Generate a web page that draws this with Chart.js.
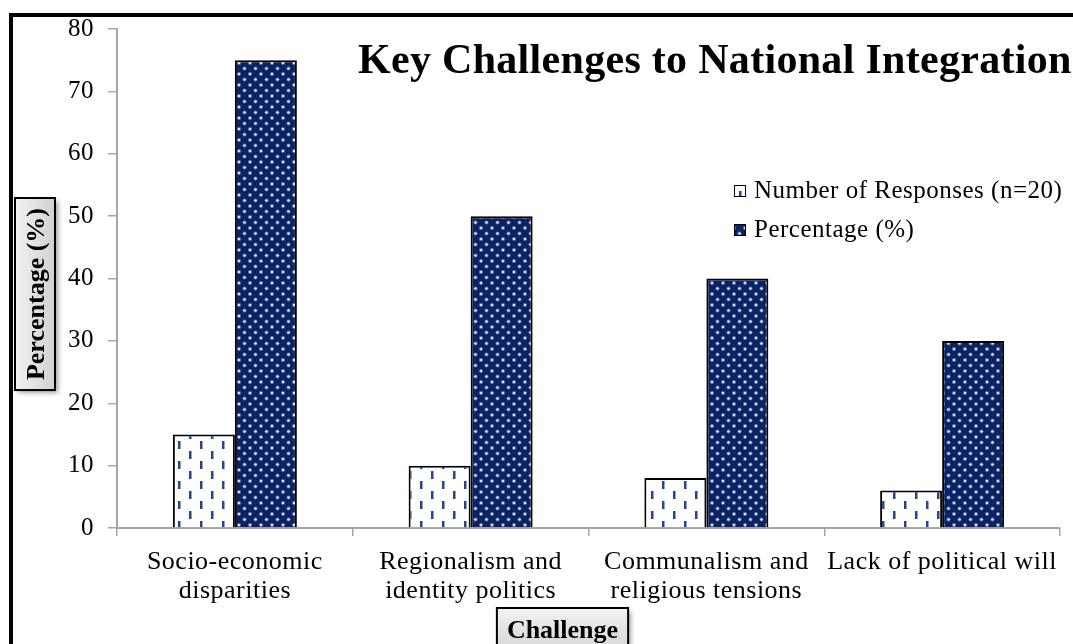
<!DOCTYPE html>
<html><head><meta charset="utf-8">
<script src="https://cdn.jsdelivr.net/npm/chart.js@4.4.1/dist/chart.umd.min.js"></script>
<style>html,body{margin:0;padding:0;background:#fff;overflow:hidden}#wrap{position:relative;width:1073px;height:644px}</style>
</head><body><div id="wrap"><canvas id="c" width="1073" height="644"></canvas></div>
<script>
const categories = [["Socio-economic","disparities"],["Regionalism and","identity politics"],["Communalism and","religious tensions"],["Lack of political will"]];
const responses = [15, 10, 8, 6];
const percentages = [75, 50, 40, 30];
const seriesNames = ["Number of Responses (n=20)", "Percentage (%)"];
const yMin = 0, yMax = 80, yStep = 10;
const chartTitle = "Key Challenges to National Integration";
const yTitle = "Percentage (%)";
const xTitle = "Challenge";

const SERIF = "'Liberation Serif','Times New Roman',serif";

function dashPattern(){
  const c=document.createElement('canvas'); c.width=22; c.height=20;
  const g=c.getContext('2d');
  g.fillStyle='#fff'; g.fillRect(0,0,22,20);
  g.fillStyle='#24468a';
  g.fillRect(2,1,2.5,8); g.fillRect(13,11,2.5,8);
  return g.createPattern(c,'repeat');
}
function dotPattern(){
  const c=document.createElement('canvas'); c.width=11; c.height=11;
  const g=c.getContext('2d');
  g.fillStyle='#0b2265'; g.fillRect(0,0,11,11);
  const dot=(x,y)=>{
    g.fillStyle='rgba(200,210,235,0.5)'; g.beginPath(); g.arc(x,y,2.0,0,Math.PI*2); g.fill();
    g.fillStyle='rgba(255,255,255,0.95)'; g.beginPath(); g.arc(x,y,1.1,0,Math.PI*2); g.fill();
  };
  dot(2.5,2.5); dot(8,8);
  return g.createPattern(c,'repeat');
}
const patA = dashPattern(), patB = dotPattern();

const decor = {
  id:'decor',
  beforeDraw(chart){
    const ctx=chart.ctx;
    ctx.save(); ctx.fillStyle='#fff'; ctx.fillRect(0,0,chart.width,chart.height); ctx.restore();
    ctx.letterSpacing='0.5px';
  },
  afterDraw(chart){
    const ctx=chart.ctx;
    ctx.save();
    ctx.letterSpacing='0px';
    // page border
    ctx.fillStyle='#000';
    ctx.fillRect(9,13,4,chart.height-13);
    ctx.fillRect(9,13,chart.width-9,4);
    // title
    ctx.fillStyle='#000';
    ctx.font="bold 42px "+SERIF;
    ctx.letterSpacing='0.3px';
    ctx.textBaseline='alphabetic'; ctx.textAlign='left';
    ctx.fillText(chartTitle,358,73);
    // legend
    ctx.font="25px "+SERIF;
    ctx.letterSpacing='0.5px';
    const items=[{p:patA,t:seriesNames[0],y:198},{p:patB,t:seriesNames[1],y:237}];
    items.forEach(it=>{
      ctx.fillStyle=it.p; ctx.fillRect(734,it.y-13,12,12);
      ctx.strokeStyle='#000'; ctx.lineWidth=1; ctx.strokeRect(734.5,it.y-12.5,11,11);
      ctx.fillStyle='#000'; ctx.fillText(it.t,754,it.y);
    });
    ctx.letterSpacing='0px';
    function box(x,y,w,h,vertical){
      ctx.save();
      ctx.shadowColor='rgba(0,0,0,0.4)'; ctx.shadowBlur=5; ctx.shadowOffsetX=3; ctx.shadowOffsetY=3;
      const gr = vertical ? ctx.createLinearGradient(x,0,x+w,0) : ctx.createLinearGradient(0,y,0,y+h);
      gr.addColorStop(0,'#f3f3f3'); gr.addColorStop(1,'#d0d0d0');
      ctx.fillStyle=gr; ctx.fillRect(x,y,w,h);
      ctx.restore();
      ctx.strokeStyle='#000'; ctx.lineWidth=2; ctx.strokeRect(x,y,w,h);
    }
    // y title
    ctx.font="bold 26px "+SERIF;
    const yw=ctx.measureText(yTitle).width;
    const yh=yw+20;
    box(15,198,40,yh,true);
    ctx.save(); ctx.translate(36,198+yh/2); ctx.rotate(-Math.PI/2);
    ctx.fillStyle='#000'; ctx.textAlign='center'; ctx.textBaseline='middle';
    ctx.fillText(yTitle,0,1); ctx.restore();
    // x title
    ctx.font="bold 26px "+SERIF;
    const xw=ctx.measureText(xTitle).width+20;
    box(562.5-xw/2,608,xw,50,false);
    ctx.fillStyle='#000'; ctx.textAlign='center'; ctx.textBaseline='alphabetic';
    ctx.fillText(xTitle,562.5,638);
    ctx.restore();
  }
};

new Chart(document.getElementById('c'),{
  type:'bar',
  data:{
    labels:categories,
    datasets:[
      {label:seriesNames[0],data:responses,backgroundColor:patA,borderColor:'#000',borderWidth:2,borderSkipped:'bottom'},
      {label:seriesNames[1],data:percentages,backgroundColor:patB,borderColor:'#000',borderWidth:2,borderSkipped:'bottom'}
    ]
  },
  options:{
    responsive:false, animation:false,
    layout:{padding:{left:0,top:28,right:13,bottom:0}},
    plugins:{legend:{display:false},title:{display:false},tooltip:{enabled:false}},
    datasets:{bar:{categoryPercentage:0.526,barPercentage:1.0}},
    scales:{
      x:{
        afterFit(s){s.height=116;},
        grid:{display:true,drawOnChartArea:false,offset:true,tickLength:8,color:'#a6a6a6',lineWidth:1.5},
        border:{display:true,color:'#a6a6a6',width:2},
        ticks:{color:'#000',font:{family:SERIF,size:26,lineHeight:1.1},padding:12,maxRotation:0,autoSkip:false}
      },
      y:{
        min:yMin,max:yMax,
        afterFit(s){s.width=117;},
        grid:{display:true,drawOnChartArea:false,tickLength:9,color:'#a6a6a6',lineWidth:1.5},
        border:{display:true,color:'#a6a6a6',width:2},
        ticks:{stepSize:yStep,color:'#000',font:{family:SERIF,size:25},padding:14}
      }
    }
  },
  plugins:[decor]
});
</script></body></html>
